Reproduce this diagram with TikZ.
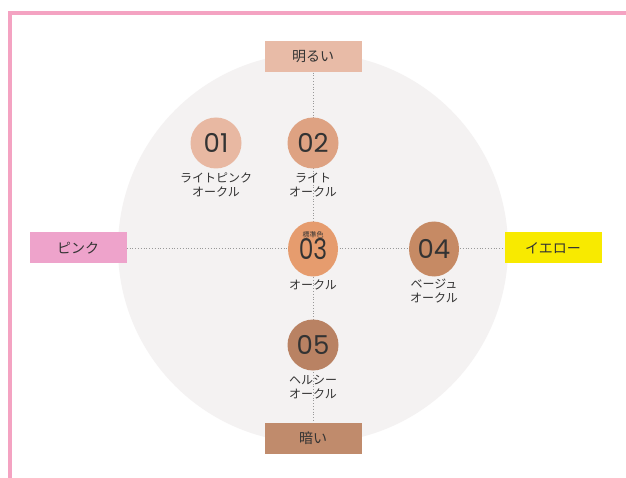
\documentclass[tikz,border=0pt]{standalone}
\usepackage{fontspec}
\setmainfont{Noto Sans CJK JP}
\newfontfamily\numfont{Poppins}
\usetikzlibrary{positioning,shapes.geometric}

\definecolor{frame pink}{HTML}{F4A3C2}
\definecolor{disc gray}{HTML}{F4F2F2}
\definecolor{tone01}{HTML}{E8B8A2}
\definecolor{tone02}{HTML}{DEA282}
\definecolor{tone03}{HTML}{E69C6E}
\definecolor{tone04}{HTML}{C68A64}
\definecolor{tone05}{HTML}{B98263}
\definecolor{bright box}{HTML}{E8BBA7}
\definecolor{dark box}{HTML}{C08B6C}
\definecolor{pink box}{HTML}{EEA3CB}
\definecolor{yellow box}{HTML}{F8EA00}
\colorlet{ink}{black!80}
\tikzset{axisbox/.style={minimum width=97pt, minimum height=31pt, inner sep=0pt, font=\fontsize{14}{14}\selectfont, text=ink},
    tone/.style={circle, minimum size=51pt, inner sep=0pt, font=\numfont\fontsize{26}{26}\selectfont, text=ink},
    oval tone/.style={tone, ellipse, minimum width=50pt, minimum height=55pt},
    tonename/.style={align=center, font=\fontsize{12}{14}\selectfont, text=ink, inner sep=0pt},
    axis/.style={draw=black!40, dotted, line width=0.8pt}}

\begin{document}
\begin{tikzpicture}[x=1pt, y=-1pt]
    \useasboundingbox (0,0) rectangle (626,478);
    \fill[white] (0,0) rectangle (626,478);
    \fill[disc gray] (313,248) circle (195pt);
    \draw[frame pink, line width=4pt] (10,478) -- (10,13) -- (626,13);

    \node[axisbox, fill=bright box] (bright) at (313,57) {明るい};
    \node[axisbox, fill=dark box] (dark) at (313,438) {暗い};
    \node[axisbox, fill=pink box] (pink) at (78,248) {ピンク};
    \node[axisbox, fill=yellow box] (yellow) at (553,248) {イエロー};
    \draw[axis] (bright) -- (dark);
    \draw[axis] (pink) -- (yellow);

    \node[tone, fill=tone01] (c01) at (216,143) {01};
    \node[tone, fill=tone02] (c02) at (313,143) {02};
    \node[oval tone, fill=tone03] (c03) at (313,249) {\raisebox{-5pt}{\scalebox{0.9}[1.1]{03}}};
    \node[oval tone, fill=tone04] (c04) at (434,249) {04};
    \node[tone, fill=tone05] (c05) at (313,345) {05};
    \node[font=\fontsize{7}{7}\selectfont, text=ink, inner sep=0pt] (std) at ([yshift=14pt]c03.center) {標準色};

    \node[tonename, below=4pt of c01] (n01) {ライトピンク\\オークル};
    \node[tonename, below=4pt of c02] (n02) {ライト\\オークル};
    \node[tonename, below=3pt of c03] (n03) {オークル};
    \node[tonename, below=2pt of c04] (n04) {ベージュ\\オークル};
    \node[tonename, below=4pt of c05] (n05) {ヘルシー\\オークル};
\end{tikzpicture}
\end{document}
